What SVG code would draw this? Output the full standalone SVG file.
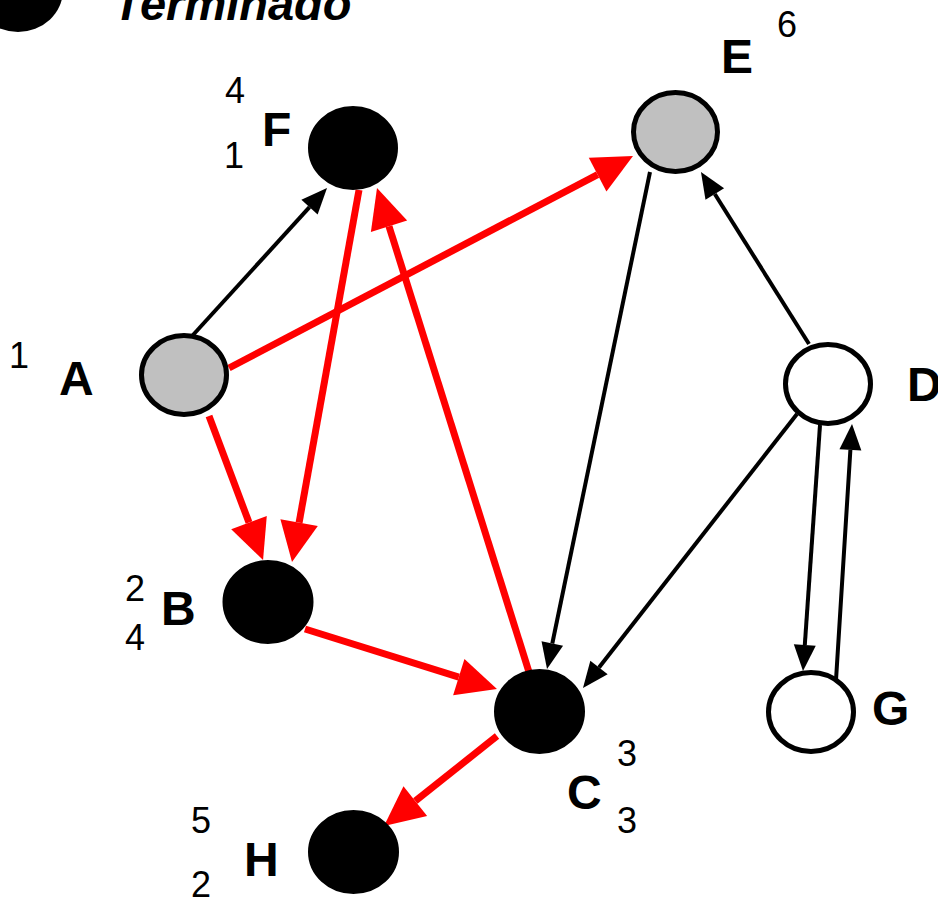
<svg xmlns="http://www.w3.org/2000/svg" width="938" height="901" viewBox="0 0 938 901">
<defs>
<style>
.node{stroke:#000;stroke-width:5}
.done{fill:#000}
.gray{fill:#C0C0C0}
.white{fill:#fff}
.lbl{font-family:"Liberation Sans",Arial,sans-serif;font-weight:bold;font-size:48px;fill:#000}
.num{font-family:"Liberation Sans",Arial,sans-serif;font-size:36px;fill:#000}
.red{stroke:#FF0000;stroke-width:7;fill:none}
.blk{stroke:#000;stroke-width:4;fill:none}
</style>
<marker id="ar" markerUnits="userSpaceOnUse" markerWidth="40" markerHeight="38" refX="0" refY="19" orient="auto" overflow="visible">
<path d="M0,0 L40,19 L0,38 z" fill="#FF0000"/>
</marker>
<marker id="ab" markerUnits="userSpaceOnUse" markerWidth="26" markerHeight="22" refX="0" refY="11" orient="auto" overflow="visible">
<path d="M0,0 L26,11 L0,22 z" fill="#000"/>
</marker>
</defs>
<rect width="938" height="901" fill="#fff"/>
<g id="legend">
<ellipse cx="18" cy="-10" rx="45" ry="42" fill="#000"/>
<text x="113" y="20" font-family="Liberation Sans, Arial, sans-serif" font-weight="bold" font-style="italic" font-size="47">Terminado</text>
</g>
<g id="connectors">
<line class="blk" x1="193" y1="335" x2="309.5" y2="207.2" marker-end="url(#ab)"/>
<line class="red" x1="229" y1="368" x2="597.6" y2="174.6" marker-end="url(#ar)"/>
<line class="red" x1="209" y1="416" x2="249" y2="522.6" marker-end="url(#ar)"/>
<line class="red" x1="359" y1="190" x2="299.1" y2="522.6" marker-end="url(#ar)"/>
<line class="red" x1="529" y1="672" x2="389" y2="226.2" marker-end="url(#ar)"/>
<line class="blk" x1="650" y1="172" x2="552.3" y2="643.5" marker-end="url(#ab)"/>
<line class="blk" x1="809" y1="344" x2="714.8" y2="194" marker-end="url(#ab)"/>
<line class="blk" x1="797" y1="414" x2="599" y2="667.5" marker-end="url(#ab)"/>
<line class="blk" x1="820" y1="425" x2="804.8" y2="645.1" marker-end="url(#ab)"/>
<line class="blk" x1="836" y1="680" x2="850.4" y2="449.9" marker-end="url(#ab)"/>
<line class="red" x1="305" y1="629" x2="458.8" y2="677.1" marker-end="url(#ar)"/>
<line class="red" x1="497" y1="736" x2="415.3" y2="801.1" marker-end="url(#ar)"/>
</g>
<g id="node-F">
<ellipse class="node done" cx="353" cy="148" rx="42.5" ry="39.5"/>
<text class="lbl" x="262" y="146">F</text>
<text class="num" x="225" y="103">4</text>
<text class="num" x="224" y="168">1</text>
</g>
<g id="node-E">
<ellipse class="node gray" cx="675.5" cy="132" rx="42" ry="39.5"/>
<text class="lbl" x="721" y="73">E</text>
<text class="num" x="777" y="37">6</text>
</g>
<g id="node-A">
<ellipse class="node gray" cx="184" cy="375" rx="42.5" ry="39.5"/>
<text class="lbl" x="59" y="395">A</text>
<text class="num" x="9" y="368">1</text>
</g>
<g id="node-B">
<ellipse class="node done" cx="268" cy="602" rx="43" ry="39.5"/>
<text class="lbl" x="161" y="625">B</text>
<text class="num" x="125" y="601">2</text>
<text class="num" x="125" y="650">4</text>
</g>
<g id="node-C">
<ellipse class="node done" cx="539.5" cy="711.5" rx="43" ry="40"/>
<text class="lbl" x="567" y="809">C</text>
<text class="num" x="617" y="766">3</text>
<text class="num" x="617" y="833">3</text>
</g>
<g id="node-D">
<ellipse class="node white" cx="828" cy="384" rx="42.5" ry="39.5"/>
<text class="lbl" x="907" y="401">D</text>
</g>
<g id="node-G">
<ellipse class="node white" cx="811" cy="712" rx="42.5" ry="39.5"/>
<text class="lbl" x="872" y="725">G</text>
</g>
<g id="node-H">
<ellipse class="node done" cx="353.5" cy="852" rx="43" ry="39.5"/>
<text class="lbl" x="244" y="876">H</text>
<text class="num" x="191" y="833">5</text>
<text class="num" x="191" y="897">2</text>
</g>
</svg>
